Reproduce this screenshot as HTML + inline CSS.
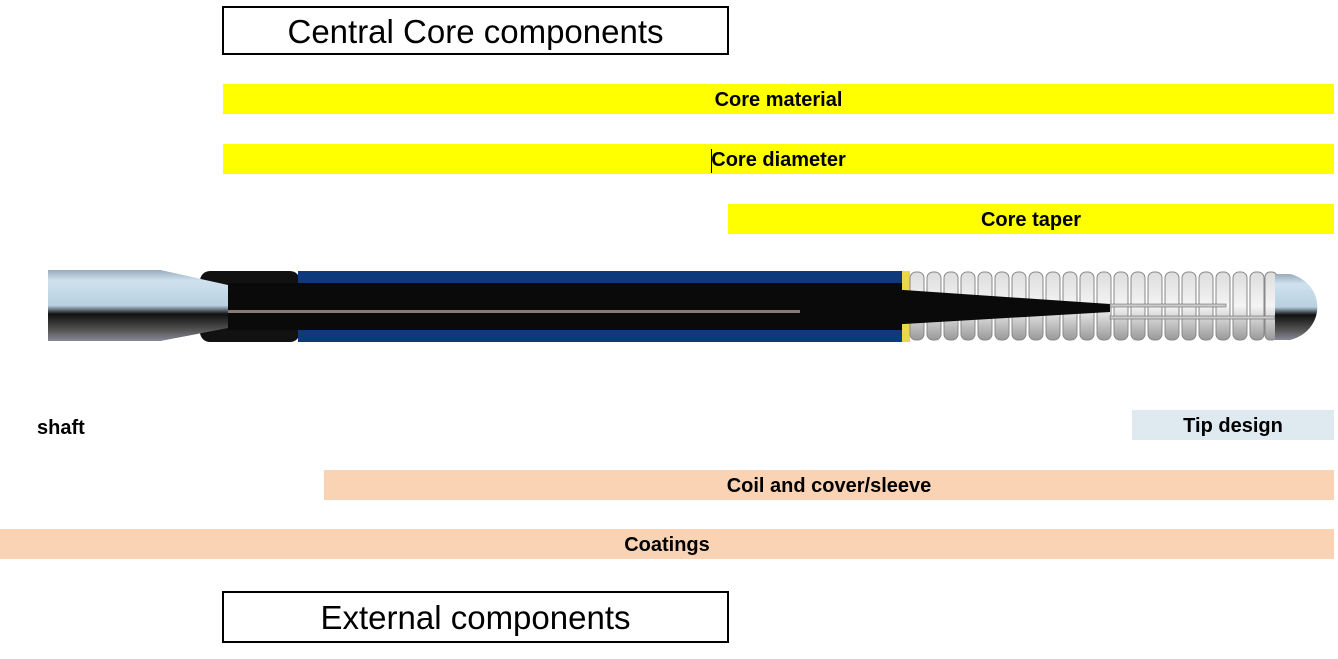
<!DOCTYPE html>
<html><head><style>
body{margin:0;width:1338px;height:659px;background:#fff;position:relative;overflow:hidden;font-family:"Liberation Sans",Arial,sans-serif}
.b{position:absolute;display:flex;align-items:center;justify-content:center;font-weight:bold;font-size:20px;color:#000;padding-top:3px;box-sizing:border-box}
.box{position:absolute;border:2px solid #000;box-sizing:border-box;display:flex;align-items:center;justify-content:center;font-size:33px;padding-top:2px}
</style></head><body>
<div class="box" style="left:222px;top:6px;width:507px;height:49px">Central Core components</div>
<div class="b" style="left:223px;top:84px;width:1111px;height:30px;background:#ffff00">Core material</div>
<div class="b" style="left:223px;top:144px;width:1111px;height:30px;background:#ffff00">Core diameter</div>
<div style="position:absolute;left:711px;top:149px;width:1px;height:24px;background:#000"></div>
<div class="b" style="left:728px;top:204px;width:606px;height:30px;background:#ffff00">Core taper</div>
<svg style="position:absolute;left:0;top:0" width="1338" height="659">
<defs>
<linearGradient id="m" x1="0" y1="0" x2="0" y2="1"><stop offset="0" stop-color="#9ab"/><stop offset=".15" stop-color="#cfe2ee"/><stop offset=".5" stop-color="#b8d0e0"/><stop offset=".62" stop-color="#111"/><stop offset=".85" stop-color="#555"/><stop offset="1" stop-color="#889"/></linearGradient>
<linearGradient id="c" x1="0" y1="0" x2="0" y2="1"><stop offset="0" stop-color="#ddd"/><stop offset=".5" stop-color="#f4f4f4"/><stop offset="1" stop-color="#999"/></linearGradient>
</defs>
<path d="M48 270 H160 L228 285 V328 L160 341 H48 Z" fill="url(#m)"/>
<rect x="200" y="271" width="100" height="71" rx="10" fill="#111"/>
<path d="M160 270 L228 285 V328 L160 341 Z" fill="url(#m)"/>
<rect x="298" y="271" width="604" height="71" fill="#0d3a7a"/>
<rect x="228" y="283" width="674" height="47" fill="#0a0a0a"/>
<rect x="228" y="310" width="674" height="3" fill="#8a7a74"/>
<rect x="902" y="271" width="8" height="71" fill="#e8d84a"/>
<g fill="url(#c)" stroke="#888" stroke-width="1">
<rect x="910" y="272" width="14" height="68" rx="6"/><rect x="927" y="272" width="14" height="68" rx="6"/><rect x="944" y="272" width="14" height="68" rx="6"/><rect x="961" y="272" width="14" height="68" rx="6"/><rect x="978" y="272" width="14" height="68" rx="6"/><rect x="995" y="272" width="14" height="68" rx="6"/><rect x="1012" y="272" width="14" height="68" rx="6"/><rect x="1029" y="272" width="14" height="68" rx="6"/><rect x="1046" y="272" width="14" height="68" rx="6"/><rect x="1063" y="272" width="14" height="68" rx="6"/><rect x="1080" y="272" width="14" height="68" rx="6"/><rect x="1097" y="272" width="14" height="68" rx="6"/><rect x="1114" y="272" width="14" height="68" rx="6"/><rect x="1131" y="272" width="14" height="68" rx="6"/><rect x="1148" y="272" width="14" height="68" rx="6"/><rect x="1165" y="272" width="14" height="68" rx="6"/><rect x="1182" y="272" width="14" height="68" rx="6"/><rect x="1199" y="272" width="14" height="68" rx="6"/><rect x="1216" y="272" width="14" height="68" rx="6"/><rect x="1233" y="272" width="14" height="68" rx="6"/><rect x="1250" y="272" width="14" height="68" rx="6"/><rect x="1265" y="272" width="12" height="68" rx="5"/>
</g>
<path d="M800 283 L1110 304 V312 L800 330 Z" fill="#0a0a0a"/>
<rect x="1110" y="304" width="116" height="3" fill="#ccc" stroke="#555" stroke-width=".5"/>
<rect x="1110" y="316" width="165" height="3" fill="#ccc" stroke="#555" stroke-width=".5"/>
<path d="M1275 274 H1290 A36 34 0 0 1 1290 340 H1275 Z" fill="url(#m)"/>
</svg>
<div class="b" style="left:37px;top:412px;height:30px;justify-content:flex-start">shaft</div>
<div class="b" style="left:1132px;top:410px;width:202px;height:30px;background:#deeaf0">Tip design</div>
<div class="b" style="left:324px;top:470px;width:1010px;height:30px;background:#fad3b4">Coil and cover/sleeve</div>
<div class="b" style="left:0;top:529px;width:1334px;height:30px;background:#fad3b4">Coatings</div>
<div class="box" style="left:222px;top:591px;width:507px;height:52px">External components</div>
</body></html>
